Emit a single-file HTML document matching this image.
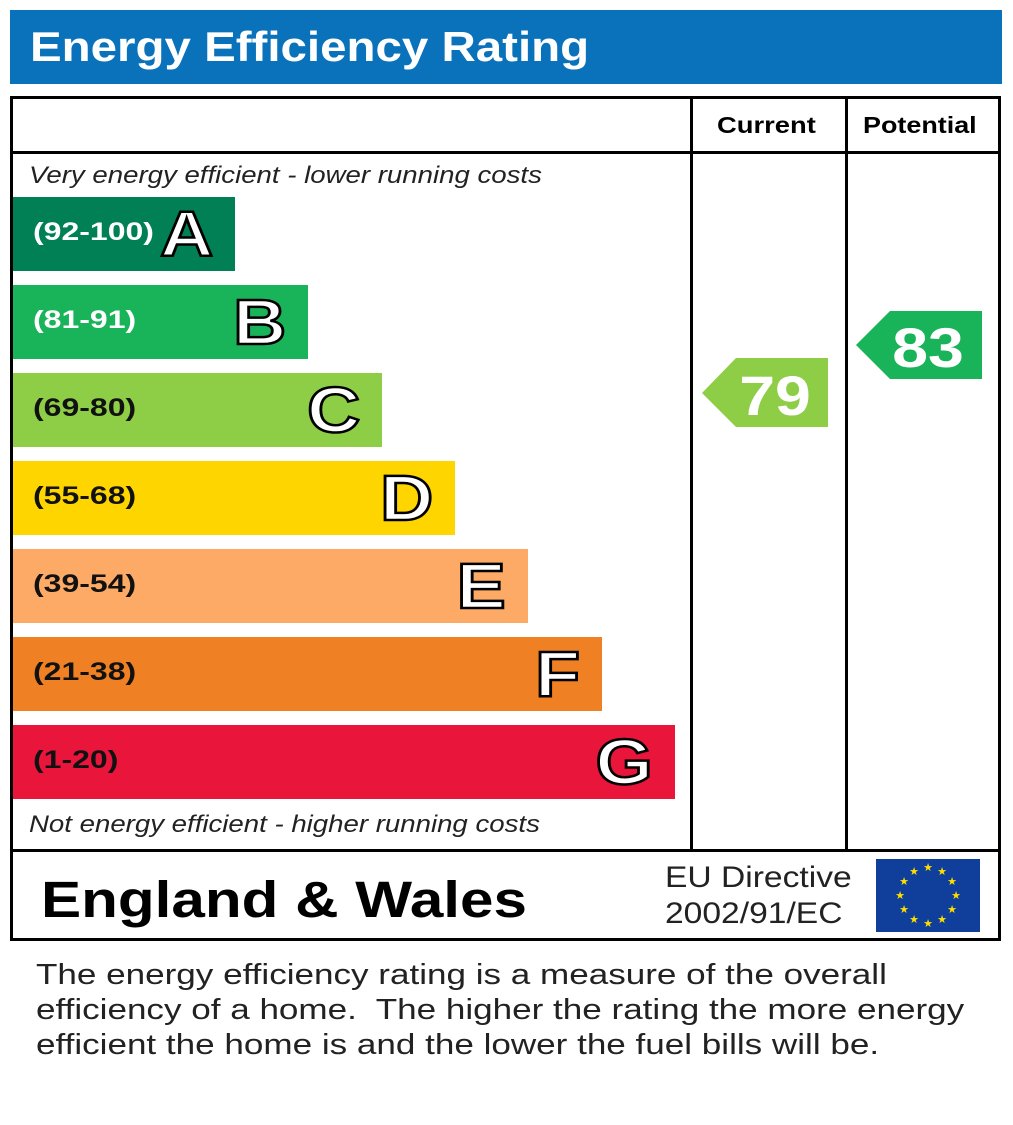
<!DOCTYPE html>
<html><head><meta charset="utf-8"><style>
body{margin:0;width:1013px;height:1125px;background:#fff;position:relative;font-family:"Liberation Sans",sans-serif;overflow:hidden}
div{position:absolute;box-sizing:border-box}
.bar{left:13px;height:74px}
.rng{position:absolute;left:20px;top:21px;font-size:25px;font-weight:bold;color:#fff;transform:scaleX(1.28);transform-origin:left;white-space:nowrap}
.let{position:absolute;right:22px;top:3px;font-size:64px;font-weight:bold;color:#fff;-webkit-text-stroke:2.5px #000;line-height:68px;transform:scaleX(1.15);transform-origin:right}
.it{font-style:italic;font-size:24px;color:#222;transform:scaleX(1.15);transform-origin:left;white-space:nowrap}
</style></head><body>
<div style="left:10px;top:10px;width:992px;height:74px;background:#0a72ba"></div>
<div style="left:30px;top:19px;font-size:42px;font-weight:bold;color:#fff;line-height:56px;transform:scaleX(1.13);transform-origin:left;white-space:nowrap">Energy Efficiency Rating</div>
<div style="left:10px;top:96px;width:991px;height:845px;border:3px solid #000"></div>
<div style="left:10px;top:151px;width:991px;height:3px;background:#000"></div>
<div style="left:10px;top:849px;width:991px;height:3px;background:#000"></div>
<div style="left:690px;top:96px;width:3px;height:755px;background:#000"></div>
<div style="left:845px;top:96px;width:3px;height:755px;background:#000"></div>
<div style="left:717px;top:112px;font-size:23px;font-weight:bold;transform:scaleX(1.19);transform-origin:left">Current</div>
<div style="left:863px;top:112px;font-size:23px;font-weight:bold;transform:scaleX(1.17);transform-origin:left">Potential</div>
<div class="it" style="left:29px;top:162px">Very energy efficient - lower running costs</div>
<div class="it" style="left:29px;top:811px">Not energy efficient - higher running costs</div>

<div class="bar" style="top:197px;width:222px;background:#008054"><span class="rng">(92-100)</span><span class="let">A</span></div>
<div class="bar" style="top:285px;width:295px;background:#19b459"><span class="rng">(81-91)</span><span class="let">B</span></div>
<div class="bar" style="top:373px;width:369px;background:#8dce46"><span class="rng" style="color:#111">(69-80)</span><span class="let">C</span></div>
<div class="bar" style="top:461px;width:442px;background:#ffd500"><span class="rng" style="color:#111">(55-68)</span><span class="let">D</span></div>
<div class="bar" style="top:549px;width:515px;background:#fcaa65"><span class="rng" style="color:#111">(39-54)</span><span class="let">E</span></div>
<div class="bar" style="top:637px;width:589px;background:#ef8023"><span class="rng" style="color:#111">(21-38)</span><span class="let">F</span></div>
<div class="bar" style="top:725px;width:662px;background:#e9153b"><span class="rng" style="color:#111">(1-20)</span><span class="let">G</span></div>

<svg style="position:absolute;left:0;top:0" width="1013" height="1125">
<polygon points="702,393 736,358 828,358 828,427 736,427" fill="#8dce46"/>
<text x="775" y="415" font-family="Liberation Sans" font-weight="bold" font-size="56" fill="#fff" text-anchor="middle" transform="translate(775 0) scale(1.15 1) translate(-775 0)">79</text>
<polygon points="856,345 890,311 982,311 982,379 890,379" fill="#19b459"/>
<text x="928" y="367" font-family="Liberation Sans" font-weight="bold" font-size="56" fill="#fff" text-anchor="middle" transform="translate(928 0) scale(1.15 1) translate(-928 0)">83</text>
<rect x="876" y="859" width="104" height="73" fill="#0f3f9a"/>
<g fill="#ffdd00" font-size="11" text-anchor="middle" font-family="DejaVu Sans">
<text x="928" y="871">★</text><text x="942" y="875">★</text><text x="952" y="885">★</text><text x="956" y="899">★</text><text x="952" y="913">★</text><text x="942" y="923">★</text><text x="928" y="927">★</text><text x="914" y="923">★</text><text x="904" y="913">★</text><text x="900" y="899">★</text><text x="904" y="885">★</text><text x="914" y="875">★</text>
</g>
</svg>
<div style="left:41px;top:870px;font-size:51px;font-weight:bold;line-height:60px;transform:scaleX(1.18);transform-origin:left;white-space:nowrap">England &amp; Wales</div>
<div style="left:665px;top:860px;font-size:30px;line-height:36px;color:#222;transform:scaleX(1.12);transform-origin:left;white-space:nowrap">EU Directive<br>2002/91/EC</div>
<div style="left:36px;top:958px;font-size:28.5px;line-height:35px;color:#222;transform:scaleX(1.23);transform-origin:left;white-space:nowrap">The energy efficiency rating is a measure of the overall<br>efficiency of a home.&nbsp; The higher the rating the more energy<br>efficient the home is and the lower the fuel bills will be.</div>
</body></html>
